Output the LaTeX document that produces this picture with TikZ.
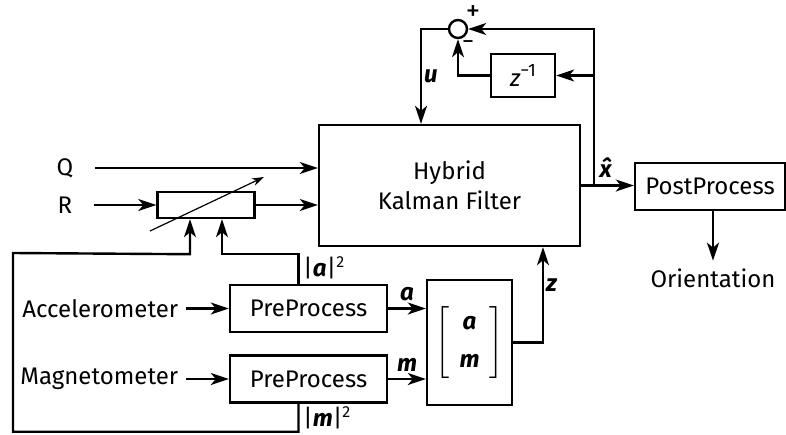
\documentclass[tikz,border=0pt]{standalone}
\usepackage{amsmath}
\usepackage{fontspec}
\setmainfont{Fira Sans}
\usepackage{tikz}
\usetikzlibrary{arrows.meta,positioning,calc}
\newcommand{\vb}[1]{\textbf{\textit{#1}}}

\begin{document}
\begin{tikzpicture}[x=0.5pt,y=-0.5pt,font=\fontsize{12}{15}\selectfont,
  line width=1.2pt,
  arr/.style={-{Stealth[length=9pt,width=6pt,inset=2.5pt]}},
  blk/.style={draw,line width=1.2pt,inner sep=0pt,align=center},
  lbl/.style={inner sep=1pt}]
\useasboundingbox (0,0) rectangle (786,434);
\node[blk,minimum width=130.5pt,minimum height=60.5pt] (kf) at (449.5,185.5) {Hybrid\\Kalman Filter};
\node[draw,circle,minimum size=9pt,inner sep=0pt] (sum) at (458,29) {};
\node[blk,minimum width=32pt,minimum height=21.5pt] (delay) at (523,75.5)
  {\textit{z}\raisebox{0.8ex}{\small −1}};
\node[blk,minimum width=48.5pt,minimum height=13pt] (gain) at (206,205) {};
\node[blk,minimum width=78.5pt,minimum height=23.5pt] (pre1) at (308.5,308.5) {PreProcess};
\node[blk,minimum width=78.5pt,minimum height=23.5pt] (pre2) at (308.5,379) {PreProcess};
\node[blk,minimum width=42.5pt,minimum height=62.5pt] (vec) at (469.5,342.5)
  {$\left[\begin{array}{c}\text{\vb{a}}\\[4pt]\text{\vb{m}}\end{array}\right]$};
\node[blk,minimum width=75pt,minimum height=23.5pt] (post) at (710,186.5) {PostProcess};
\node (orient) at (713,278) {Orientation};
\node (q) at (65,168) {Q};
\node (r) at (65,205) {R};
\node[anchor=east] (acc) at (186,308.5) {Accelerometer};
\node[anchor=east] (mag) at (186,379) {Magnetometer};
\node at (473,13) {\Large +};
\node at (468,45) {−};
\coordinate (split) at ($(kf.east)+(13,0)$);
\coordinate (fbA) at ($(gain.south)+(16,35)$);
\coordinate (fbM) at ($(gain.south)+(-16,35)$);
\coordinate (fbC) at (13,253);
\draw[arr] ([xshift=7pt]q.east) -- (q.east -| kf.west);
\draw[arr] ([xshift=7pt]r.east) -- (gain.west);
\draw[arr] (gain.east) -- (gain.east -| kf.west);
\draw[line width=0.6pt,-{Stealth[length=6pt,width=4pt]}] ($(gain.center)+(-56,26)$) -- ($(gain.center)+(58,-28)$);
\draw[arr] ([xshift=-5pt]pre1.north) |- (fbA) -- (fbA |- gain.south);
\draw[arr] ([xshift=-5pt]pre2.south) -- ++(0,28) -| (fbC) -- (fbM) -- (fbM |- gain.south);
\node[lbl,anchor=west] at (300,268) {|\vb{a}|\textsuperscript{2}};
\node[lbl,anchor=west] at (300,418) {|\vb{m}|\textsuperscript{2}};
\draw[arr] (acc.east) -- (pre1.west);
\draw[arr] (mag.east) -- (pre2.west);
\draw[arr] (pre1.east) -- node[above=2pt,lbl] {\vb{a}} (pre1.east -| vec.west);
\draw[arr] (pre2.east) -- node[above=2pt,lbl] {\vb{m}} (pre2.east -| vec.west);
\draw[arr] (vec.east) -| node[pos=0.8,right,lbl] {\vb{z}} ($(kf.south)+(93.5,0)$);
\draw[arr] (kf.east) -- (kf.east -| post.west);
\node[lbl] at (606,168) {\vb{\^x}};
\draw[arr] (split) |- (sum.east);
\draw[arr] (split |- delay) -- (delay.east);
\draw[arr] (delay.west) -| (sum.south);
\draw[arr] (sum.west) -| node[pos=0.75,right,lbl] {\vb{u}} ($(kf.north)+(-28.5,0)$);
\draw[arr] (post.south -| orient) -- (orient.north);
\end{tikzpicture}
\end{document}
